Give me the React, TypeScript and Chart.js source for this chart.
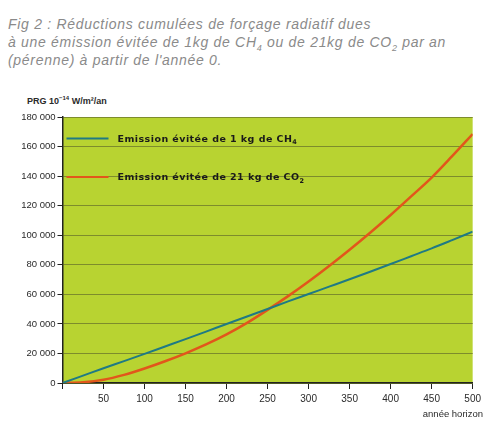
import React, { useEffect, useRef } from "react";
import { Chart, registerables } from "chart.js";

Chart.register(...registerables);

const years = [0, 25, 50, 75, 100, 125, 150, 175, 200, 225, 250, 275, 300, 325, 350, 375, 400, 425, 450, 475, 500];
const ch4Values = [0, 5000, 10000, 14800, 19700, 24700, 29700, 34800, 39900, 45000, 50100, 55200, 60200, 65200, 70200, 75300, 80500, 85800, 91100, 96700, 102400];
const co2Values = [0, 500, 2200, 5500, 9800, 14700, 20100, 26100, 32900, 40700, 49500, 58800, 68700, 79200, 90200, 101700, 113700, 126300, 139000, 153500, 168500];
const ch4Label = ["Emission évitée de 1 kg de CH", "4"];
const co2Label = ["Emission évitée de 21 kg de CO", "2"];
const yTicksMax = 180000;
const yStep = 20000;
const xStep = 50;

const BG = "#b8d331";
const GRID = "#7d8c2c";
const BLUE = "#1f7a84";
const ORANGE = "#e2561b";

const fmt = (v: number) => String(v).replace(/\B(?=(\d{3})+(?!\d))/g, " ");

const bgPlugin = {
  id: "plotBg",
  beforeDraw(chart: any) {
    const { ctx, chartArea: a } = chart;
    ctx.save();
    ctx.fillStyle = BG;
    ctx.fillRect(a.left, a.top, a.right - a.left, a.bottom - a.top);
    ctx.restore();
  },
};

const legendPlugin = {
  id: "inlineLegend",
  afterDraw(chart: any) {
    const { ctx, chartArea: a } = chart;
    const items = [
      { label: ch4Label, color: BLUE, y: a.top + 21.5 },
      { label: co2Label, color: ORANGE, y: a.top + 60 },
    ];
    ctx.save();
    items.forEach((it) => {
      ctx.strokeStyle = it.color;
      ctx.lineWidth = 2;
      ctx.beginPath();
      ctx.moveTo(a.left + 4, it.y);
      ctx.lineTo(a.left + 46, it.y);
      ctx.stroke();
      ctx.fillStyle = "#1a1a1a";
      (ctx as any).letterSpacing = "0.45px";
      ctx.font = "bold 9.5px 'DejaVu Sans', sans-serif";
      ctx.textBaseline = "middle";
      const x0 = a.left + 55;
      ctx.fillText(it.label[0], x0, it.y + 1);
      const w = ctx.measureText(it.label[0]).width;
      ctx.font = "bold 6.5px 'DejaVu Sans', sans-serif";
      ctx.fillText(it.label[1], x0 + w, it.y + 4);
      (ctx as any).letterSpacing = "0px";
    });
    ctx.restore();
  },
};

export default function App() {
  const ref = useRef<HTMLCanvasElement | null>(null);

  useEffect(() => {
    if (!ref.current) return;
    const chart = new Chart(ref.current, {
      type: "line",
      data: {
        datasets: [
          {
            label: ch4Label.join(""),
            data: years.map((x, i) => ({ x, y: ch4Values[i] })),
            borderColor: BLUE,
            borderWidth: 2,
            pointRadius: 0,
            cubicInterpolationMode: "monotone",
          },
          {
            label: co2Label.join(""),
            data: years.map((x, i) => ({ x, y: co2Values[i] })),
            borderColor: ORANGE,
            borderWidth: 2.5,
            pointRadius: 0,
            cubicInterpolationMode: "monotone",
          },
        ],
      },
      options: {
        animation: false,
        responsive: false,
        layout: { padding: { top: 117, right: 6, left: 0, bottom: 0 } },
        plugins: { legend: { display: false }, tooltip: { enabled: false }, title: { display: false } },
        scales: {
          x: {
            type: "linear",
            min: 0,
            max: 500,
            ticks: {
              stepSize: xStep,
              color: "#2a2a2a",
              font: { size: 10, family: "'Liberation Sans', Arial, sans-serif" },
              padding: 4,
              maxRotation: 0,
              callback: (v: any) => (v === 0 ? "" : String(v)),
            },
            grid: { drawOnChartArea: false, drawTicks: true, tickLength: 6, tickColor: "#222", tickWidth: 1 },
            border: { color: "#222", width: 1.5 },
            afterFit: (s: any) => {
              s.height = 39;
            },
          },
          y: {
            min: 0,
            max: yTicksMax,
            ticks: {
              stepSize: yStep,
              color: "#2a2a2a",
              font: { size: 9.5, family: "'Liberation Sans', Arial, sans-serif" },
              padding: 2,
              callback: (v: any) => fmt(Number(v)),
            },
            grid: { color: GRID, lineWidth: 1, tickColor: "#222", tickLength: 5, drawTicks: true },
            border: { color: "#222", width: 1.5 },
            afterFit: (s: any) => {
              s.width = 62.5;
            },
          },
        },
      },
      plugins: [bgPlugin, legendPlugin],
    } as any);
    return () => chart.destroy();
  }, []);

  return (
    <div style={{ position: "fixed", left: 0, top: 0, width: 485, height: 422, background: "#fff", overflow: "hidden" }}>
      <div
        style={{
          position: "absolute",
          left: 8,
          top: 15,
          fontFamily: "'Liberation Sans', Arial, sans-serif",
          fontStyle: "italic",
          fontSize: 14,
          lineHeight: "18px",
          color: "#8a8a8a",
          letterSpacing: "0.7px",
          whiteSpace: "nowrap",
        }}
      >
        <div>Fig 2 : Réductions cumulées de forçage radiatif dues</div>
        <div>
          à une émission évitée de 1kg de CH<sub style={{ fontSize: 9, lineHeight: 0 }}>4</sub> ou de 21kg de CO<sub style={{ fontSize: 9, lineHeight: 0 }}>2</sub> par an
        </div>
        <div>(pérenne) à partir de l'année 0.</div>
      </div>
      <div
        style={{
          position: "absolute",
          left: 27,
          top: 95,
          fontFamily: "'Liberation Sans', Arial, sans-serif",
          fontWeight: "bold",
          fontSize: 9,
          color: "#2a2a2a",
          whiteSpace: "nowrap",
        }}
      >
        PRG 10<sup style={{ fontSize: 6 }}>−14</sup> W/m²/an
      </div>
      <canvas ref={ref} width={485} height={422} style={{ position: "absolute", left: 0, top: 0, display: "block" }} />
      <div
        style={{
          position: "absolute",
          right: 2,
          top: 408,
          fontFamily: "'Liberation Sans', Arial, sans-serif",
          fontSize: 9.5,
          color: "#2a2a2a",
          whiteSpace: "nowrap",
        }}
      >
        année horizon
      </div>
    </div>
  );
}
